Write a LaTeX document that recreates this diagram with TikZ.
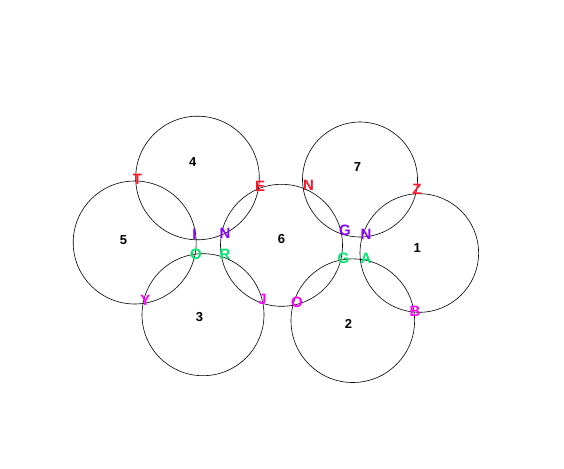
\documentclass[tikz,border=0pt]{standalone}
\usepackage{fontspec}
\setmainfont{Liberation Sans}
\definecolor{cred}{RGB}{255,20,40}
\definecolor{cgreen}{RGB}{0,230,110}
\definecolor{cpurple}{RGB}{140,0,255}
\definecolor{cmag}{RGB}{255,0,255}
\tikzset{
  ring/.style={draw=black, line width=0.6pt},
  num/.style={font=\bfseries\fontsize{13}{13}\selectfont, inner sep=0pt},
  let/.style={font=\bfseries\fontsize{15}{15}\selectfont, inner sep=0pt},
}
\begin{document}
\begin{tikzpicture}[x=1pt,y=-1pt]
\useasboundingbox (0,0) rectangle (564,468);
\fill[white] (0,0) rectangle (564,468);
% circles
\draw[ring] (197.5,178) circle[radius=61.8];
\draw[ring] (134.7,242.5) circle[radius=61.5];
\draw[ring] (203,314.7) circle[radius=61];
\draw[ring] (281.5,245.3) circle[radius=61];
\draw[ring] (360,179.5) circle[radius=57.5];
\draw[ring] (419.3,253) circle[radius=59.3];
\draw[ring] (352.8,320.7) circle[radius=61.8];
% numbers
\node[num] (n4) at (192.8,162.5) {4};
\node[num] (n5) at (123.5,240) {5};
\node[num] (n6) at (281.5,239.5) {6};
\node[num] (n3) at (199.5,317) {3};
\node[num] (n7) at (357.5,167) {7};
\node[num] (n1) at (417.3,248) {1};
\node[num] (n2) at (348.5,324) {2};
% letters
\node[let, text=cred] (lT) at (137.5,179) {T};
\node[let, text=cred] (lE) at (260,186) {E};
\node[let, text=cred] (lN1) at (308.5,185.5) {N};
\node[let, text=cred] (lZ) at (417,189) {Z};
\node[let, text=cpurple] (lI) at (194.5,234.5) {I};
\node[let, text=cpurple] (lN2) at (225,233.5) {N};
\node[let, text=cgreen] (lO1) at (196,254) {O};
\node[let, text=cgreen] (lR) at (225,254.5) {R};
\node[let, text=cmag] (lY) at (145.5,300.5) {Y};
\node[let, text=cmag] (lJ) at (262.5,299.5) {J};
\node[let, text=cmag] (lO2) at (297,302) {O};
\node[let, text=cpurple] (lG1) at (345,230) {G};
\node[let, text=cpurple] (lN3) at (366,234.5) {N};
\node[let, text=cgreen] (lG2) at (343.5,258.2) {G};
\node[let, text=cgreen] (lA) at (366,258) {A};
\node[let, text=cmag] (lB) at (415,311.8) {B};
\end{tikzpicture}
\end{document}
